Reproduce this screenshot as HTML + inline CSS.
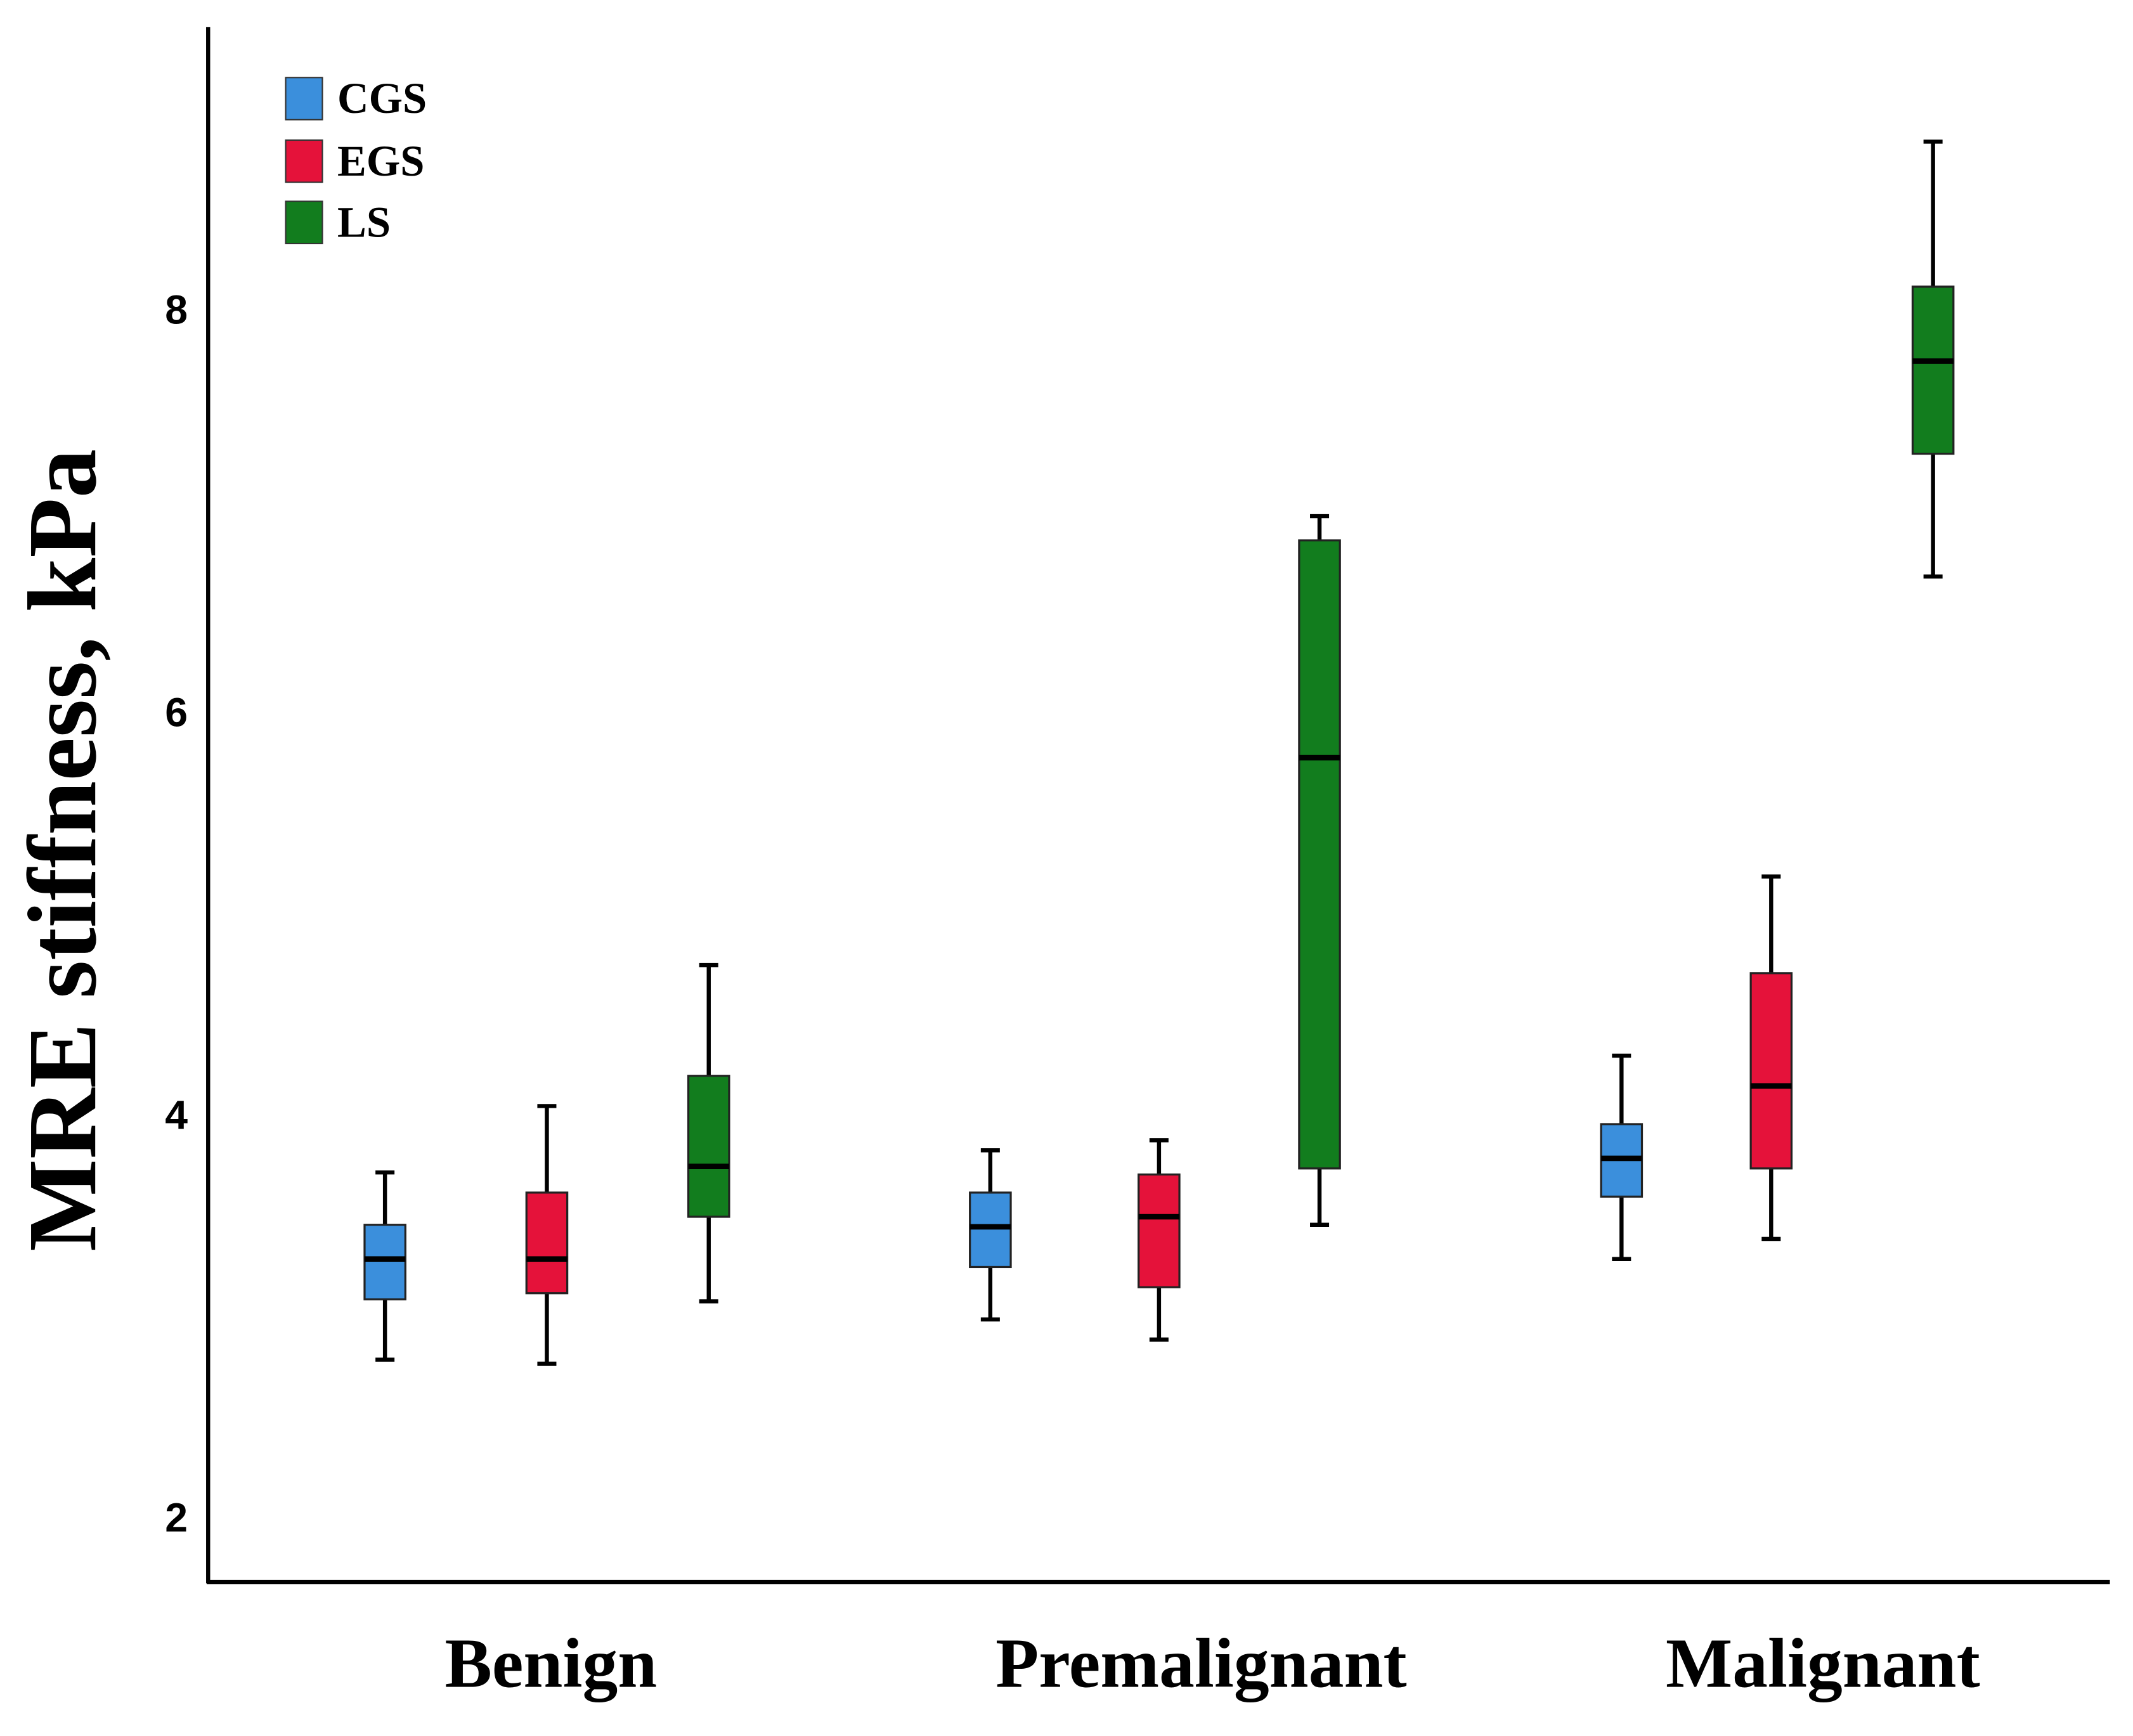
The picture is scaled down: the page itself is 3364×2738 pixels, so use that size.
<!DOCTYPE html>
<html><head><meta charset="utf-8"><style>
html,body{margin:0;padding:0;background:#fff;}
svg{display:block;}
</style></head><body>
<svg id="chart" width="3364" height="2738" viewBox="0 0 1568 1276.2" preserveAspectRatio="none" xmlns="http://www.w3.org/2000/svg">
<rect x="0" y="0" width="1568" height="1276.2" fill="#fff"/>
<g id="axes"></g>
<g id="boxes"></g>
<g id="legend"></g>
</svg>
<script>
const categories = ["Benign","Premalignant","Malignant"];
const seriesNames = ["CGS","EGS","LS"];
const seriesColors = ["#3b8fdc","#e5123a","#127d1e"];
const yTicks = [2,4,6,8];
// [min, q1, median, q3, max] per category
const cgsStats = [[2.78,3.08,3.28,3.45,3.71],[2.98,3.24,3.44,3.61,3.82],[3.28,3.59,3.78,3.95,4.29]];
const egsStats = [[2.76,3.11,3.28,3.61,4.04],[2.88,3.14,3.49,3.70,3.87],[3.38,3.73,4.14,4.70,5.18]];
const lsStats  = [[3.07,3.49,3.74,4.19,4.74],[3.45,3.73,5.77,6.85,6.97],[6.67,7.28,7.74,8.11,8.83]];
const allStats = [cgsStats, egsStats, lsStats];

const NS = "http://www.w3.org/2000/svg";
function yScale(v){ return 1115 - (v-2)*148; }
const catCenters = [402, 852, 1302];
const seriesOffset = [-119, 0, 119];
function xScale(ci, si){ return catCenters[ci] + seriesOffset[si] + (ci===1 && si===0 ? -5 : 0) + (ci===1 && si===2 ? -1 : 0) + (ci===2 && si===0 ? 9 : 0); }
function mk(tag, attrs, parent){ const e=document.createElementNS(NS,tag); for(const k in attrs) e.setAttribute(k,attrs[k]); parent.appendChild(e); return e; }

const axes = document.getElementById('axes');
const yAxis = mk('line',{x1:153,y1:20,x2:153,y2:1164,stroke:'#000','stroke-width':3},axes);


const xAxis = mk('line',{x1:152,y1:1163,x2:1551,y2:1163,stroke:'#000','stroke-width':3},axes);


yTicks.forEach(t=>{
  const tx = mk('text',{x:138,y:yScale(t)+11,'text-anchor':'end','font-family':'Liberation Sans, sans-serif','font-weight':'bold','font-size':30,fill:'#000'},axes);
  tx.textContent = t;
  
  
});
const catLabelX = [405, 883, 1340];
categories.forEach((c,i)=>{
  const tx = mk('text',{x:catLabelX[i],y:1240,'text-anchor':'middle','font-family':'Liberation Serif, serif','font-weight':'bold','font-size':52,fill:'#000'},axes);
  tx.textContent = c;
  
  
});
const yt = mk('text',{x:0,y:0,transform:'translate(70,625) rotate(-90)','text-anchor':'middle','font-family':'Liberation Serif, serif','font-weight':'bold','font-size':72,fill:'#000'},axes);
yt.textContent = 'MRE stiffness, kPa';



const boxes = document.getElementById('boxes');
const bw = 30, cap = 14;
allStats.forEach((ser,si)=>{
  ser.forEach((s,ci)=>{
    const g = mk('g',{},boxes);
    
    
    const x = xScale(ci,si);
    const [mn,q1,md,q3,mx] = s;
    mk('line',{x1:x,y1:yScale(mx),x2:x,y2:yScale(q3),stroke:'#000','stroke-width':3},g);
    mk('line',{x1:x,y1:yScale(q1),x2:x,y2:yScale(mn),stroke:'#000','stroke-width':3},g);
    mk('line',{x1:x-cap/2,y1:yScale(mx),x2:x+cap/2,y2:yScale(mx),stroke:'#000','stroke-width':3},g);
    mk('line',{x1:x-cap/2,y1:yScale(mn),x2:x+cap/2,y2:yScale(mn),stroke:'#000','stroke-width':3},g);
    mk('rect',{x:x-bw/2,y:yScale(q3),width:bw,height:yScale(q1)-yScale(q3),fill:seriesColors[si],stroke:'#222','stroke-width':1.5},g);
    mk('line',{x1:x-bw/2,y1:yScale(md),x2:x+bw/2,y2:yScale(md),stroke:'#000','stroke-width':4},g);
  });
});

const legend = document.getElementById('legend');
const legY = [57,103,148];
seriesNames.forEach((n,i)=>{
  const g = mk('g',{},legend);
  
  
  mk('rect',{x:210,y:legY[i],width:27,height:31,fill:seriesColors[i],stroke:'#333','stroke-width':1},g);
  const tx = mk('text',{x:248,y:legY[i]+26,'font-family':'Liberation Serif, serif','font-weight':'bold','font-size':32,fill:'#000'},g);
  tx.textContent = n;
});
</script>
</body></html>
